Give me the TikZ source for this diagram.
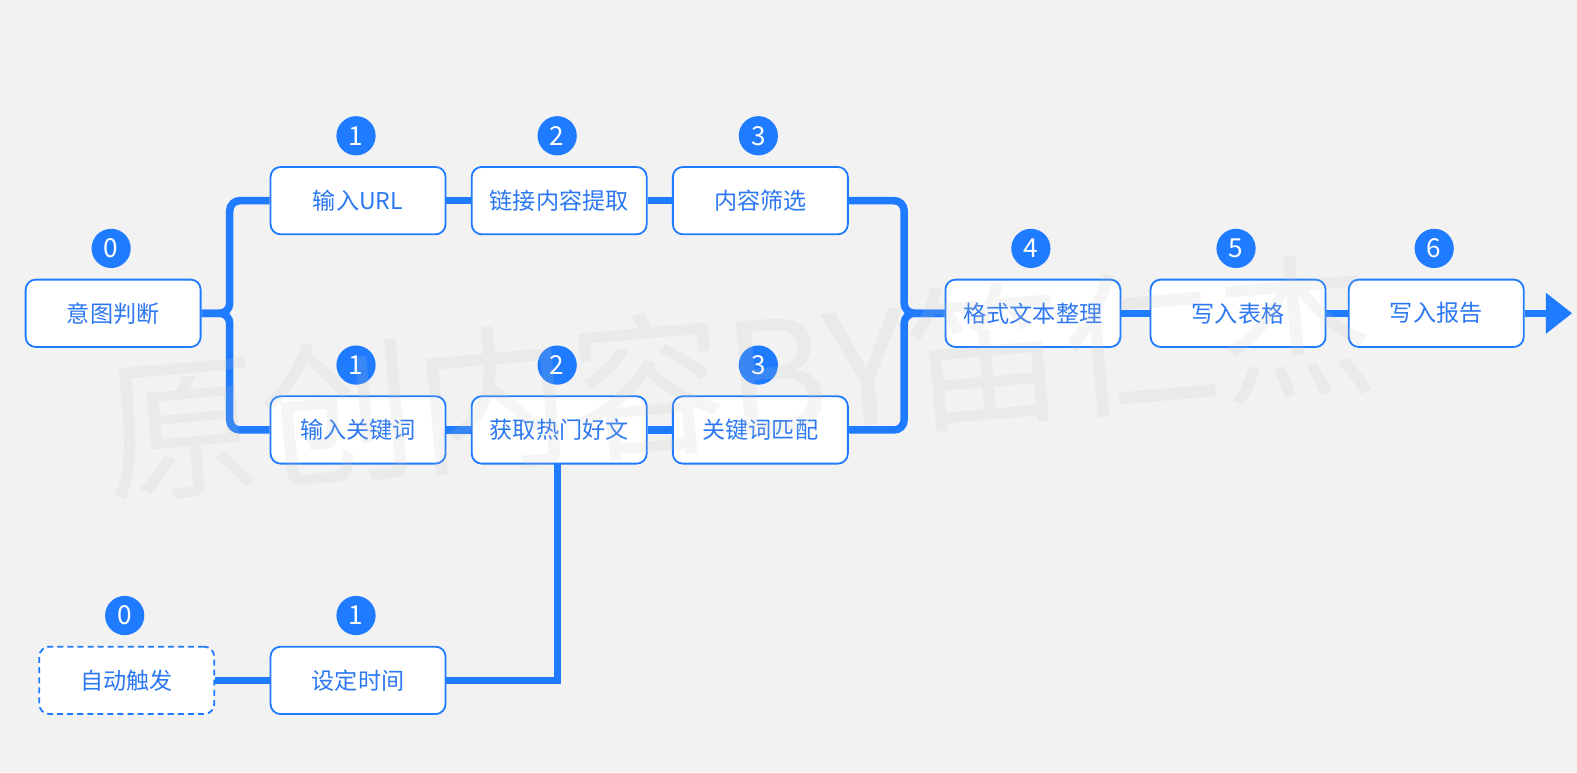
\documentclass[tikz,border=0pt]{standalone}
\usepackage{fontspec}
\setmainfont{Noto Sans CJK SC}
\definecolor{bgc}{HTML}{F2F2F2}
\definecolor{mainblue}{HTML}{1F7BFF}
\definecolor{txtblue}{HTML}{2C78F2}
\definecolor{wmgray}{HTML}{C4C4C4}
\pgfdeclarelayer{bglayer}
\pgfdeclarelayer{linelayer}
\pgfdeclarelayer{toplayer}
\pgfsetlayers{bglayer,linelayer,main,toplayer}
\tikzset{
  box/.style={draw=mainblue, line width=1.8pt, fill=white, rounded corners=10pt,
    minimum width=174pt, minimum height=67pt, inner sep=0pt, text=txtblue,
    font=\fontsize{23}{27}\selectfont},
  dbox/.style={box, dash pattern=on 6pt off 4pt},
  num/.style={circle, fill=mainblue, minimum size=39pt, inner sep=0pt, text=white,
    font=\fontsize{26}{30}\selectfont},
  conn/.style={draw=mainblue, line width=7.5pt},
  bracel/.style={conn, rounded corners=10pt},
}
\begin{document}
\begin{tikzpicture}[x=1pt,y=-1pt]
\begin{pgfonlayer}{bglayer}
\fill[bgc] (0,0) rectangle (1568,767.6);
\end{pgfonlayer}
\useasboundingbox (0,0) rectangle (1568,767.6);

\node[box] (A) at (112.5,311.5) {意图判断};
\node[box] (B1) at (356,199.5) {输入URL};
\node[box] (B2) at (556,199.5) {链接内容提取};
\node[box] (B3) at (756,199.5) {内容筛选};
\node[box] (C1) at (356,427.5) {输入关键词};
\node[box] (C2) at (556,427.5) {获取热门好文};
\node[box] (C3) at (756,427.5) {关键词匹配};
\node[box] (D4) at (1027,311.5) {格式文本整理};
\node[box] (D5) at (1231,311.5) {写入表格};
\node[box] (D6) at (1428,311.5) {写入报告};
\node[dbox] (E0) at (126,676.5) {自动触发};
\node[box] (E1) at (356,676.5) {设定时间};

\begin{pgfonlayer}{linelayer}
% left brace
\draw[bracel] (B1.west) -- (228.4,199.5) -- (228.4,311.5) -- (A.east);
\draw[bracel] (C1.west) -- (228.4,427.5) -- (228.4,311.5) -- (A.east);
% right brace
\draw[bracel] (B3.east) -- (899,199.5) -- (899,311.5) -- (D4.west);
\draw[bracel] (C3.east) -- (899,427.5) -- (899,311.5) -- (D4.west);
% straight links
\draw[conn] (B1.east) -- (B2.west);
\draw[conn] (B2.east) -- (B3.west);
\draw[conn] (C1.east) -- (C2.west);
\draw[conn] (C2.east) -- (C3.west);
\draw[conn] (D4.east) -- (D5.west);
\draw[conn] (D5.east) -- (D6.west);
\draw[conn] (E0.east) -- (E1.west);
\draw[conn] (E1.east) -- (554.5,676.5) -- (554.5,460);
% output arrow
\coordinate (ahead) at (1537,311.5);
\coordinate (tip) at (1563,311.5);
\draw[conn] (D6.east) -- (ahead);
\fill[mainblue] (1537,291) -- (tip) -- (1537,332) -- cycle;
\end{pgfonlayer}

% step numbers
\node[num] (nA) at (110.5,247) {0};
\node[num] (nB1) at (354,135) {1};
\node[num] (nB2) at (554,135) {2};
\node[num] (nB3) at (754,135) {3};
\node[num] (nC1) at (354,363) {1};
\node[num] (nC2) at (554,363) {2};
\node[num] (nC3) at (754,363) {3};
\node[num] (nD4) at (1025,247) {4};
\node[num] (nD5) at (1229,247) {5};
\node[num] (nD6) at (1426,247) {6};
\node[num] (nE0) at (124,612) {0};
\node[num] (nE1) at (354,612) {1};

% watermark
\begin{pgfonlayer}{toplayer}
\node[rotate=5, text=wmgray, text opacity=0.16, inner sep=0pt,
  font=\fontsize{155}{160}\selectfont] (wm) at (735,375) {原创内容BY笛仁杰};
\end{pgfonlayer}
\end{tikzpicture}
\end{document}
